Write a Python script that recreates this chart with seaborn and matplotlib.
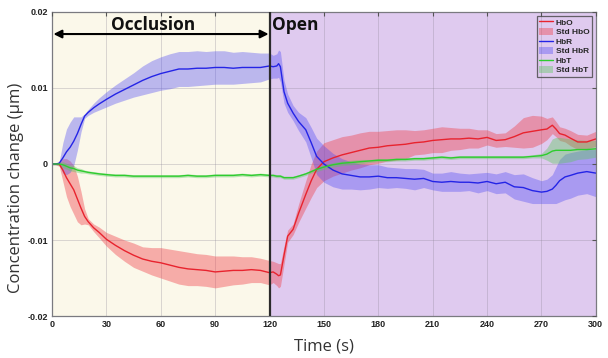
import numpy as np
import pandas as pd
import seaborn as sns
import matplotlib.pyplot as plt
from matplotlib.lines import Line2D
from matplotlib.patches import Patch

# Time axis (s)
time_s = [0, 2, 4, 6, 8, 10, 12, 14, 16, 18, 20, 23, 26, 30, 35, 40, 45, 50, 55, 60,
          65, 70, 75, 80, 85, 90, 95, 100, 105, 110, 115, 120, 122, 124, 125, 126, 128,
          130, 133, 136, 140, 143, 146, 150, 155, 160, 165, 170, 175, 180, 185, 190, 195,
          200, 205, 210, 215, 220, 225, 230, 235, 240, 245, 250, 255, 260, 265, 270, 273,
          276, 278, 280, 283, 286, 290, 295, 300]

# Mean concentration changes and standard deviations (x 1e-3 µm)
hbo_mean = [0, 0, 0, -0.8, -1.8, -2.6, -3.4, -4.6, -5.8, -6.9, -7.6, -8.4, -9.0, -9.9, -10.7,
            -11.4, -12.0, -12.5, -12.8, -13.0, -13.3, -13.6, -13.8, -13.9, -14.0, -14.2, -14.1,
            -14.0, -14.0, -13.9, -14.0, -14.3, -14.2, -14.5, -14.7, -14.6, -12.0, -9.5, -8.6,
            -6.5, -4.0, -2.2, -0.7, 0.3, 0.8, 1.2, 1.5, 1.8, 2.1, 2.2, 2.4, 2.5, 2.6, 2.8, 2.9,
            3.1, 3.2, 3.3, 3.3, 3.4, 3.3, 3.5, 3.1, 3.2, 3.6, 4.1, 4.3, 4.5, 4.6, 5.1, 4.6, 4.0,
            3.8, 3.4, 2.9, 2.9, 3.3]
hbo_std = [0.1, 0.1, 0.3, 1.5, 2.5, 3.0, 3.2, 3.0, 2.2, 1.0, 0.4, 0.5, 0.7, 0.9, 1.2, 1.4,
           1.6, 1.6, 1.8, 2.0, 2.1, 2.2, 2.2, 2.1, 2.1, 2.1, 2.0, 1.9, 1.8, 1.7, 1.6, 1.6, 1.4,
           1.5, 1.6, 1.5, 1.2, 0.8, 0.7, 1.2, 1.8, 2.2, 2.4, 2.5, 2.4, 2.4, 2.3, 2.3, 2.2, 2.1,
           2.0, 2.0, 1.9, 1.6, 1.6, 1.6, 1.7, 1.5, 1.4, 1.3, 1.2, 1.0, 0.9, 0.9, 1.4, 2.0, 2.1,
           1.8, 1.4, 1.1, 1.0, 0.9, 0.9, 1.0, 1.0, 0.9, 1.0]

hbr_mean = [0, 0, 0.1, 0.8, 1.6, 2.2, 3.0, 4.0, 5.2, 6.3, 6.8, 7.4, 7.9, 8.5, 9.2, 9.8, 10.4,
            11.0, 11.5, 11.9, 12.2, 12.5, 12.5, 12.6, 12.6, 12.7, 12.7, 12.6, 12.7, 12.7, 12.7,
            12.9, 12.8, 12.9, 13.2, 12.8, 9.5, 8.0, 6.7, 5.6, 4.5, 2.8, 1.0, 0.0, -0.8, -1.3,
            -1.5, -1.7, -1.7, -1.6, -1.8, -1.8, -1.9, -2.0, -1.9, -2.3, -2.4, -2.3, -2.4, -2.4,
            -2.5, -2.3, -2.6, -2.4, -3.0, -3.1, -3.5, -3.7, -3.6, -3.3, -2.8, -2.2, -1.7, -1.5,
            -1.2, -1.0, -1.2]
hbr_std = [0.1, 0.1, 0.2, 2.0, 3.0, 3.3, 3.2, 2.2, 1.0, 0.3, 0.4, 0.6, 0.8, 1.0, 1.2, 1.4,
           1.6, 1.9, 2.1, 2.2, 2.3, 2.3, 2.3, 2.3, 2.2, 2.2, 2.2, 2.1, 2.1, 2.0, 1.9, 1.7, 1.5,
           1.6, 1.8, 2.0, 1.5, 1.2, 1.0, 1.2, 1.6, 2.0, 2.4, 2.4, 2.2, 2.0, 1.8, 1.7, 1.6, 1.5,
           1.4, 1.3, 1.3, 1.4, 1.2, 1.1, 1.2, 1.3, 1.2, 1.1, 1.3, 1.2, 1.3, 1.4, 1.6, 1.8, 1.7,
           1.5, 1.6, 1.9, 2.4, 2.8, 3.0, 3.0, 2.9, 2.9, 3.1]

hbt_mean = [0, 0, 0, -0.1, -0.3, -0.5, -0.6, -0.8, -0.9, -1.0, -1.1, -1.2, -1.3, -1.4, -1.5,
            -1.5, -1.6, -1.6, -1.6, -1.6, -1.6, -1.6, -1.5, -1.6, -1.6, -1.5, -1.5, -1.5, -1.4,
            -1.5, -1.4, -1.5, -1.5, -1.6, -1.6, -1.6, -1.8, -1.8, -1.8, -1.6, -1.3, -1.0, -0.7,
            -0.4, -0.1, 0.1, 0.2, 0.3, 0.4, 0.5, 0.5, 0.6, 0.6, 0.7, 0.7, 0.8, 0.9, 0.8, 0.9,
            0.9, 0.9, 0.9, 0.9, 0.9, 0.9, 0.9, 1.0, 1.1, 1.3, 1.7, 1.8, 1.8, 1.8, 1.8, 1.9, 1.9,
            2.0]
hbt_std = [0.1, 0.1, 0.2, 0.4, 0.4, 0.4, 0.4, 0.3, 0.3, 0.2, 0.2, 0.2, 0.2, 0.2, 0.2, 0.2,
           0.2, 0.2, 0.2, 0.2, 0.2, 0.2, 0.2, 0.2, 0.2, 0.2, 0.2, 0.2, 0.2, 0.2, 0.2, 0.2, 0.2,
           0.2, 0.2, 0.2, 0.2, 0.2, 0.2, 0.2, 0.2, 0.2, 0.3, 0.3, 0.3, 0.3, 0.3, 0.3, 0.2, 0.2,
           0.2, 0.2, 0.2, 0.2, 0.2, 0.2, 0.2, 0.2, 0.2, 0.2, 0.2, 0.2, 0.2, 0.2, 0.2, 0.2, 0.2,
           0.3, 0.8, 1.6, 1.7, 1.7, 1.6, 1.5, 1.3, 1.2, 1.1]

x_ticks = [0, 30, 60, 90, 120, 150, 180, 210, 240, 270, 300]
y_ticks = [-0.02, -0.01, 0, 0.01, 0.02]
y_tick_labels = ["-0.02", "-0.01", "0", "0.01", "0.02"]
occlusion_end = 120

SCALE = 1e-3
t = np.array(time_s)
series = {
    "HbO": (np.array(hbo_mean) * SCALE, np.array(hbo_std) * SCALE),
    "HbR": (np.array(hbr_mean) * SCALE, np.array(hbr_std) * SCALE),
    "HbT": (np.array(hbt_mean) * SCALE, np.array(hbt_std) * SCALE),
}
line_colors = {"HbO": "#E8232E", "HbR": "#2424E6", "HbT": "#2ECC2E"}
band_colors = {"HbO": ("#F03C46", 0.40), "HbR": ("#4B46F5", 0.36), "HbT": ("#5CC85C", 0.40)}

df = pd.concat(
    [pd.DataFrame({"time": t, "value": m, "signal": name}) for name, (m, s) in series.items()],
    ignore_index=True,
)

sns.set_style("white")
plt.rcParams["font.family"] = ["Liberation Sans", "DejaVu Sans"]

fig = plt.figure(figsize=(6.08, 3.58), dpi=100)
ax = fig.add_axes([0.0855, 0.1173, 0.8945, 0.8492])

# Condition shading
ax.axvspan(0, occlusion_end, color="#FBF8EA", zorder=0, lw=0)
ax.axvspan(occlusion_end, 300, color="#DFCAEF", zorder=0, lw=0)
ax.set_axisbelow(False)
for xv in x_ticks[1:-1]:
    ax.axvline(xv, color="#8a8494", lw=0.6, alpha=0.35, zorder=0.5)
for yv in y_ticks[1:-1]:
    ax.axhline(yv, color="#8a8494", lw=0.6, alpha=0.35, zorder=0.5)

# Standard deviation bands
for name, (m, s) in series.items():
    c, a = band_colors[name]
    ax.fill_between(t, m - s, m + s, color=c, alpha=a, lw=0, zorder=1)

sns.lineplot(data=df, x="time", y="value", hue="signal", palette=line_colors,
             linewidth=1.0, ax=ax, legend=False, zorder=2)

ax.axvline(occlusion_end, color="#2b2b2b", lw=1.6, zorder=3)

ax.set_xlim(0, 300)
ax.set_ylim(-0.02, 0.02)
ax.set_xticks(x_ticks)
ax.set_xticklabels([str(v) for v in x_ticks])
ax.set_yticks(y_ticks)
ax.set_yticklabels(y_tick_labels)
ax.tick_params(axis="both", direction="in", length=3, width=0.8, colors="#555555",
               labelsize=6.5, labelcolor="#222222", top=True, right=True, pad=3)
for lab in ax.get_xticklabels() + ax.get_yticklabels():
    lab.set_fontweight("bold")
for sp in ax.spines.values():
    sp.set_color("#7a7a80")
    sp.set_linewidth(0.9)

ax.set_xlabel("Time (s)", fontsize=12, family=["Open Sans", "DejaVu Sans"], color="#333333")
ax.set_ylabel("Concentration change (µm)", fontsize=12, family=["Open Sans", "DejaVu Sans"],
              color="#333333")
ax.xaxis.set_label_coords(0.5, -0.075)
ax.yaxis.set_label_coords(-0.052, 0.42)

# Occlusion period arrow and phase labels
ax.annotate("", xy=(0.8, 0.0171), xytext=(occlusion_end - 0.5, 0.0171),
            arrowprops=dict(arrowstyle="<|-|>", color="black", lw=1.5,
                            mutation_scale=12, shrinkA=0, shrinkB=0), zorder=4)
ax.text(56, 0.0183, "Occlusion", ha="center", va="center", fontsize=12.5, fontweight="bold",
        family=["Open Sans", "DejaVu Sans"], color="#111111", zorder=4)
ax.text(occlusion_end + 1.5, 0.0183, "Open", ha="left", va="center", fontsize=12.5,
        fontweight="bold", family=["Open Sans", "DejaVu Sans"], color="#111111", zorder=4)

handles = []
for name in ["HbO", "HbR", "HbT"]:
    c, a = band_colors[name]
    handles.append(Line2D([0], [0], color=line_colors[name], lw=1.0, label=name))
    handles.append(Patch(facecolor=c, alpha=a, edgecolor="none", label="Std " + name))
leg = ax.legend(handles=handles, loc="upper right", fontsize=6, frameon=True,
                fancybox=False, borderpad=0.3, labelspacing=0.15, handlelength=1.7,
                handleheight=0.9, handletextpad=0.3, borderaxespad=0.45)
leg.get_frame().set_edgecolor("#444444")
leg.get_frame().set_facecolor("none")
leg.get_frame().set_linewidth(0.9)
for txt in leg.get_texts():
    txt.set_fontweight("bold")

fig.savefig("out.png", dpi=100, facecolor="white")
